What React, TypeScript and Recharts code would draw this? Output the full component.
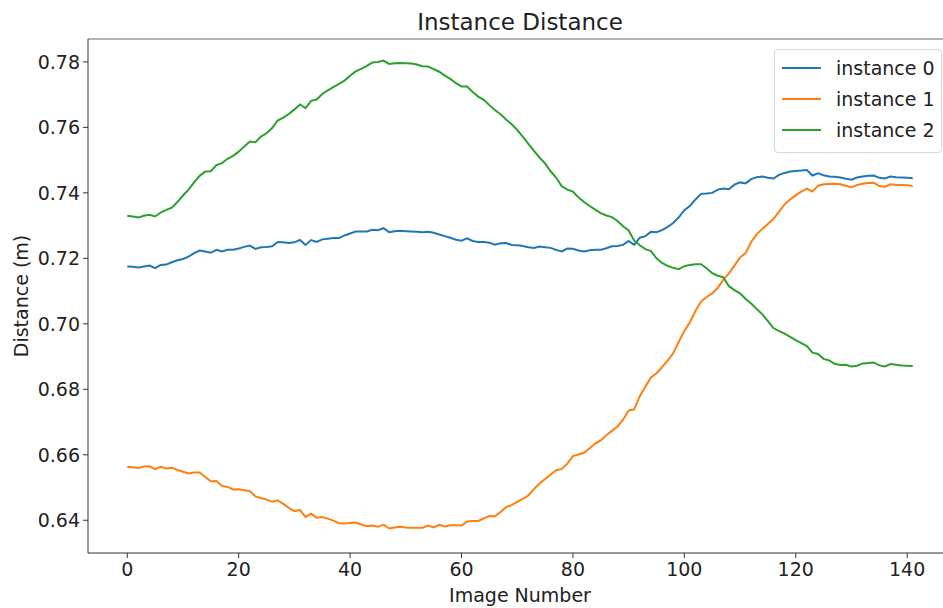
import { LineChart, Line, XAxis, YAxis, Legend, ReferenceLine } from 'recharts';

// image index 0..141
const imageNumbers = Array.from({ length: 142 }, (_, i) => i);

const instance0 = [
  0.7175, 0.7174, 0.7172, 0.7175, 0.7178, 0.7170, 0.7180, 0.7181, 0.7188, 0.7194,
  0.7198, 0.7205, 0.7216, 0.7224, 0.7221, 0.7217, 0.7226, 0.7221, 0.7226, 0.7226,
  0.7230, 0.7235, 0.7239, 0.7229, 0.7234, 0.7235, 0.7237, 0.7250, 0.7249, 0.7247,
  0.7249, 0.7256, 0.7241, 0.7256, 0.7250, 0.7258, 0.7260, 0.7262, 0.7262, 0.7270,
  0.7276, 0.7282, 0.7282, 0.7282, 0.7287, 0.7286, 0.7292, 0.7280, 0.7283, 0.7284,
  0.7283, 0.7282, 0.7281, 0.7280, 0.7281, 0.7278, 0.7273, 0.7268, 0.7263, 0.7257,
  0.7254, 0.7261, 0.7253, 0.7250, 0.7250, 0.7248, 0.7242, 0.7246, 0.7247, 0.7241,
  0.7240, 0.7238, 0.7234, 0.7232, 0.7236, 0.7234, 0.7232, 0.7226, 0.7221, 0.7230,
  0.7229, 0.7224, 0.7221, 0.7225, 0.7226, 0.7226, 0.7231, 0.7237, 0.7238, 0.7241,
  0.7253, 0.7241, 0.7263, 0.7268, 0.7281, 0.7280, 0.7286, 0.7296, 0.7308, 0.7325,
  0.7347, 0.7360, 0.7380, 0.7397, 0.7398, 0.7400, 0.7410, 0.7413, 0.7411, 0.7425,
  0.7432, 0.7429, 0.7442, 0.7448, 0.7450, 0.7446, 0.7444, 0.7455, 0.7461, 0.7465,
  0.7467, 0.7468, 0.7470, 0.7453, 0.7460, 0.7454, 0.7450, 0.7449, 0.7447, 0.7443,
  0.7440, 0.7447, 0.7450, 0.7452, 0.7453, 0.7446, 0.7444, 0.7450, 0.7448, 0.7447,
  0.7446, 0.7445,
];

const instance1 = [
  0.6563, 0.6562, 0.6560, 0.6564, 0.6565, 0.6556, 0.6563, 0.6558, 0.6560, 0.6554,
  0.6548, 0.6543, 0.6546, 0.6546, 0.6532, 0.6519, 0.6520, 0.6505, 0.6502, 0.6494,
  0.6495, 0.6492, 0.6489, 0.6473, 0.6468, 0.6463, 0.6457, 0.6461, 0.6450, 0.6438,
  0.6428, 0.6431, 0.6410, 0.6420, 0.6408, 0.6410, 0.6405, 0.6399, 0.6391, 0.6390,
  0.6392, 0.6393, 0.6387, 0.6382, 0.6384, 0.6380, 0.6387, 0.6375, 0.6378, 0.6380,
  0.6378, 0.6377, 0.6377, 0.6377, 0.6384, 0.6378, 0.6386, 0.6381, 0.6385, 0.6385,
  0.6384, 0.6396, 0.6398, 0.6398, 0.6406, 0.6413, 0.6412, 0.6425, 0.6440, 0.6446,
  0.6456, 0.6465, 0.6476, 0.6495, 0.6512, 0.6526, 0.6540, 0.6553, 0.6557, 0.6573,
  0.6596, 0.6601, 0.6606, 0.6620, 0.6634, 0.6644, 0.6660, 0.6673, 0.6686, 0.6707,
  0.6735, 0.6739, 0.6779, 0.6808, 0.6836, 0.6849, 0.6868, 0.6888, 0.6910, 0.6945,
  0.6978, 0.7005, 0.7040, 0.7068, 0.7082, 0.7093, 0.7110, 0.7135, 0.7154, 0.7178,
  0.7203, 0.7216, 0.7250, 0.7274, 0.7290, 0.7305, 0.7320, 0.7343, 0.7365, 0.7380,
  0.7393, 0.7404, 0.7413, 0.7404, 0.7422, 0.7426, 0.7427, 0.7428, 0.7426, 0.7422,
  0.7417, 0.7424, 0.7428, 0.7430, 0.7431, 0.7421, 0.7419, 0.7426, 0.7424, 0.7424,
  0.7423, 0.7421,
];

const instance2 = [
  0.7330, 0.7328, 0.7325, 0.7330, 0.7333, 0.7328, 0.7340, 0.7348, 0.7355, 0.7372,
  0.7392, 0.7410, 0.7432, 0.7452, 0.7465, 0.7466, 0.7485, 0.7491, 0.7504, 0.7513,
  0.7526, 0.7542, 0.7557, 0.7555, 0.7572, 0.7582, 0.7598, 0.7621, 0.7630, 0.7641,
  0.7655, 0.7670, 0.7659, 0.7681, 0.7685, 0.7702, 0.7713, 0.7723, 0.7733, 0.7743,
  0.7758, 0.7771, 0.7779, 0.7788, 0.7798, 0.7800, 0.7804, 0.7794, 0.7796, 0.7797,
  0.7796, 0.7795, 0.7792, 0.7787, 0.7786, 0.7778, 0.7770, 0.7758, 0.7748, 0.7735,
  0.7725, 0.7725, 0.7708, 0.7694, 0.7684, 0.7668, 0.7653, 0.7640, 0.7624, 0.7610,
  0.7592, 0.7572, 0.7550, 0.7528, 0.7508, 0.7490, 0.7466, 0.7446, 0.7420, 0.7410,
  0.7404, 0.7386, 0.7372, 0.7360, 0.7349, 0.7338, 0.7331, 0.7326, 0.7314, 0.7298,
  0.7285, 0.7254, 0.7240, 0.7228, 0.7222, 0.7200, 0.7186, 0.7177, 0.7171, 0.7167,
  0.7176, 0.7180, 0.7182, 0.7182, 0.7170, 0.7155, 0.7147, 0.7142, 0.7115, 0.7103,
  0.7093, 0.7076, 0.7062, 0.7045, 0.7029, 0.7008, 0.6987, 0.6978, 0.6970, 0.6960,
  0.6950, 0.6941, 0.6932, 0.6912, 0.6908, 0.6893, 0.6888, 0.6878, 0.6874, 0.6875,
  0.6870, 0.6872, 0.6879, 0.6880, 0.6882, 0.6873, 0.6870, 0.6877, 0.6875, 0.6873,
  0.6872, 0.6871,
];

const xTicks = [0, 20, 40, 60, 80, 100, 120, 140];
const yTicks = [0.64, 0.66, 0.68, 0.7, 0.72, 0.74, 0.76, 0.78];
const yDomain = [0.63, 0.787];

const data = imageNumbers.map((n, i) => ({
  n,
  d0: instance0[i],
  d1: instance1[i],
  d2: instance2[i],
}));

const FONT = '"DejaVu Sans", sans-serif';
const INK = '#222';

const YTitle = ({ viewBox }: any) => {
  const cy = viewBox.y + viewBox.height / 2;
  return (
    <text
      x={28}
      y={cy}
      transform={`rotate(-90, 28, ${cy})`}
      textAnchor="middle"
      fontSize={19}
      fontFamily={FONT}
      fill={INK}
    >
      Distance (m)
    </text>
  );
};

const LegendBox = ({ payload }: any) => (
  <div
    style={{
      width: 166,
      border: '1px solid #d6d6d6',
      borderRadius: 4,
      background: 'rgba(255,255,255,0.8)',
      paddingTop: 2,
      paddingBottom: 7,
      fontFamily: FONT,
      fontSize: 19,
      color: INK,
    }}
  >
    {(payload || []).map((p: any) => (
      <div key={p.value} style={{ display: 'flex', alignItems: 'center', height: 31 }}>
        <div style={{ width: 39, height: 2, background: p.color, marginLeft: 7, marginRight: 15 }} />
        <span style={{ whiteSpace: 'nowrap' }}>{p.value}</span>
      </div>
    ))}
  </div>
);

export default function App() {
  return (
    <div
      style={{
        position: 'absolute',
        left: 0,
        top: 0,
        width: 943,
        height: 608,
        overflow: 'hidden',
        background: '#fff',
      }}
    >
      <LineChart width={960} height={608} data={data} margin={{ top: 39, right: 8, left: 0, bottom: 0 }}>
        <XAxis
          dataKey="n"
          type="number"
          domain={[-7.05, 148.05]}
          ticks={xTicks}
          allowDataOverflow
          height={55}
          tickSize={5}
          tickMargin={5}
          stroke="#333"
          tick={{ fontSize: 19, fill: INK, fontFamily: FONT }}
          label={{ value: 'Image Number', position: 'insideBottom', offset: 6, fontSize: 19, fill: INK, fontFamily: FONT }}
        />
        <YAxis
          type="number"
          domain={yDomain}
          ticks={yTicks}
          allowDataOverflow
          width={88}
          tickSize={5}
          tickMargin={3}
          stroke="#333"
          tickFormatter={(v: number) => v.toFixed(2)}
          tick={{ fontSize: 19, fill: INK, fontFamily: FONT }}
          label={<YTitle />}
        />
        {/* top spine + title */}
        <ReferenceLine
          y={yDomain[1]}
          stroke="#999"
          strokeWidth={1.5}
          ifOverflow="visible"
          label={{ value: 'Instance Distance', position: 'top', offset: 9, fontSize: 23, fill: INK, fontFamily: FONT }}
        />
        <Legend
          layout="horizontal"
          verticalAlign="middle"
          align="center"
          content={<LegendBox />}
          wrapperStyle={{ left: 774, top: 49, width: 168, height: 102 }}
        />
        <Line name="instance 0" dataKey="d0" stroke="#1f77b4" strokeWidth={2} dot={false} isAnimationActive={false} />
        <Line name="instance 1" dataKey="d1" stroke="#ff7f0e" strokeWidth={2} dot={false} isAnimationActive={false} />
        <Line name="instance 2" dataKey="d2" stroke="#2ca02c" strokeWidth={2} dot={false} isAnimationActive={false} />
      </LineChart>
    </div>
  );
}
